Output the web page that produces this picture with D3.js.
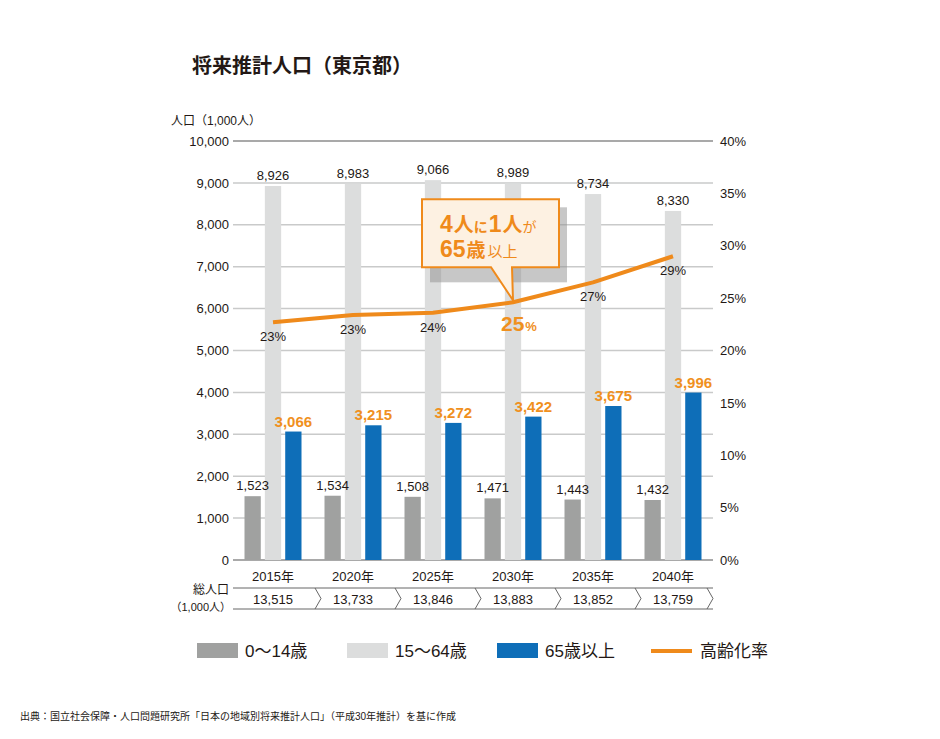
<!DOCTYPE html>
<html><head><meta charset="utf-8">
<script src="https://cdn.jsdelivr.net/npm/d3@7"></script>
<style>
html,body{margin:0;padding:0;background:#fff;}
svg{display:block;font-family:"Liberation Sans","Noto Sans CJK JP",sans-serif;}
</style></head>
<body>
<svg id="chart" width="940" height="739"></svg>
<script>
const years = ["2015年","2020年","2025年","2030年","2035年","2040年"];
const age0_14 = [1523,1534,1508,1471,1443,1432];
const age15_64 = [8926,8983,9066,8989,8734,8330];
const age65 = [3066,3215,3272,3422,3675,3996];
const agingRate = [22.7,23.4,23.6,24.6,26.5,29.0];
const totals = ["13,515","13,733","13,846","13,883","13,852","13,759"];
const leftTicks = [0,1000,2000,3000,4000,5000,6000,7000,8000,9000,10000];
const rightTicks = [0,5,10,15,20,25,30,35,40];
const seriesNames = ["0〜14歳","15〜64歳","65歳以上","高齢化率"];
const colors = {c0:"#a0a1a0", c1:"#dcdddd", c2:"#0e6eb8", line:"#ef8a1b", text:"#231815", orange:"#f0901e"};

const svg = d3.select("#chart");
const x0 = 233, x1 = 713, yTop = 141, yBot = 560;
const x = d3.scaleBand().domain(years).range([x0,x1]).padding(0);
const inner = d3.scaleBand().domain([0,1,2]).range([-28.5,28.5]).paddingInner(0.2);
const yL = d3.scaleLinear().domain([0,10000]).range([yBot,yTop]);
const yR = d3.scaleLinear().domain([0,40]).range([yBot,yTop]);
const fmt = d3.format(",");
const cx = y => x(y) + x.bandwidth()/2;

// title
svg.append("text").attr("x",192).attr("y",73).attr("font-size",20).attr("font-weight","bold")
  .attr("font-family","Noto Sans CJK JP")
  .attr("fill",colors.text).text("将来推計人口（東京都）");
svg.append("text").attr("x",171).attr("y",125).attr("font-size",12).attr("fill",colors.text).text("人口（1,000人）");

// grid
svg.append("g").selectAll("line").data(leftTicks).join("line")
  .attr("x1",x0).attr("x2",x1).attr("y1",d=>yL(d)).attr("y2",d=>yL(d))
  .attr("stroke",d=>(d===0||d===10000)?"#8c8c8c":"#c9caca").attr("stroke-width",1.5);

// left axis labels
const axL = svg.append("g").attr("transform",`translate(${x0},0)`)
  .call(d3.axisLeft(yL).tickValues(leftTicks).tickFormat(fmt).tickSize(0).tickPadding(4));
axL.select(".domain").remove();
axL.selectAll("text").attr("font-size",13).attr("fill",colors.text).attr("font-family","Liberation Sans");

const axR = svg.append("g").attr("transform",`translate(${x1},0)`)
  .call(d3.axisRight(yR).tickValues(rightTicks).tickFormat(d=>d+"%").tickSize(0).tickPadding(7));
axR.select(".domain").remove();
axR.selectAll("text").attr("font-size",13).attr("fill",colors.text).attr("font-family","Liberation Sans");

// bars
const series = [age0_14, age15_64, age65];
const fills = [colors.c0, colors.c1, colors.c2];
series.forEach((vals,si)=>{
  svg.append("g").selectAll("rect").data(vals).join("rect")
    .attr("x",(d,i)=>cx(years[i])+inner(si)).attr("width",inner.bandwidth())
    .attr("y",d=>yL(d)).attr("height",d=>yBot-yL(d)).attr("fill",fills[si]);
});

// bar labels
svg.append("g").selectAll("text").data(age0_14).join("text")
  .attr("x",(d,i)=>cx(years[i])+inner(0)+inner.bandwidth()/2).attr("y",d=>yL(d)-6)
  .attr("text-anchor","middle").attr("font-size",13).attr("fill",colors.text).text(fmt);
svg.append("g").selectAll("text").data(age15_64).join("text")
  .attr("x",(d,i)=>cx(years[i])).attr("y",d=>yL(d)-6)
  .attr("text-anchor","middle").attr("font-size",13).attr("fill",colors.text).text(fmt);
svg.append("g").selectAll("text").data(age65).join("text")
  .attr("x",(d,i)=>cx(years[i])+inner(2)+inner.bandwidth()/2).attr("y",d=>yL(d)-5)
  .attr("text-anchor","middle").attr("font-size",15).attr("font-weight","bold").attr("fill",colors.orange).text(fmt);

// line
const line = d3.line().x((d,i)=>cx(years[i])).y(d=>yR(d)).curve(d3.curveLinear);
svg.append("path").datum(agingRate).attr("d",line).attr("fill","none")
  .attr("stroke",colors.line).attr("stroke-width",4).attr("stroke-linejoin","round");

// rate labels
agingRate.forEach((r,i)=>{
  const px = cx(years[i]), py = yR(r);
  if(i===3){
    const t = svg.append("text").attr("x",px-12).attr("y",py+29).attr("fill",colors.orange).attr("font-weight","bold");
    t.append("tspan").attr("font-size",21).text(Math.round(r));
    t.append("tspan").attr("font-size",13).attr("dx",1).text("%");
  } else {
    svg.append("text").attr("x",px).attr("y",py+19).attr("text-anchor","middle")
      .attr("font-size",13).attr("fill",colors.text).text(Math.round(r)+"%");
  }
});

// callout
const tipX = cx(years[3]), tipY = yR(agingRate[3]);
const bx = tipX-91, by = tipY-103, bw = 137, bh = 68;
svg.append("rect").attr("x",bx+8).attr("y",by+8).attr("width",bw).attr("height",bh+7)
  .attr("fill","#8f9090").attr("opacity",0.5);
svg.append("path")
  .attr("d",`M${bx},${by}H${bx+bw}V${by+bh}H${tipX-1}L${tipX},${tipY-2}L${tipX-22},${by+bh}H${bx}Z`)
  .attr("fill","#fdf1e2").attr("stroke",colors.line).attr("stroke-width",2).attr("stroke-linejoin","miter");
const t1 = svg.append("text").attr("x",bx+18).attr("y",by+33).attr("fill",colors.line).attr("font-weight","bold");
t1.append("tspan").attr("font-size",23).text("4");
t1.append("tspan").attr("font-size",20).attr("dx",1).text("人");
t1.append("tspan").attr("font-size",14).text("に");
t1.append("tspan").attr("font-size",23).attr("dx",1).text("1");
t1.append("tspan").attr("font-size",20).attr("dx",1).text("人");
t1.append("tspan").attr("font-size",14).attr("font-weight","normal").text("が");
const t2 = svg.append("text").attr("x",bx+18).attr("y",by+58).attr("fill",colors.line).attr("font-weight","bold");
t2.append("tspan").attr("font-size",23).text("65");
t2.append("tspan").attr("font-size",19).attr("dx",1).text("歳");
t2.append("tspan").attr("font-size",15).attr("font-weight","normal").attr("dx",2).text("以上");

// x labels
svg.append("g").selectAll("text").data(years).join("text")
  .attr("x",d=>cx(d)).attr("y",581).attr("text-anchor","middle").attr("font-size",13)
  .attr("fill",colors.text).text(d=>d);

// total population row
const rTop = 588, rBot = 609, rMid = (rTop+rBot)/2;
svg.append("text").attr("x",229).attr("y",594).attr("text-anchor","end").attr("font-size",12)
  .attr("fill",colors.text).text("総人口");
svg.append("text").attr("x",231).attr("y",611).attr("text-anchor","end").attr("font-size",11)
  .attr("fill",colors.text).text("（1,000人）");
svg.append("line").attr("x1",x0).attr("x2",x1).attr("y1",rTop).attr("y2",rTop).attr("stroke","#666").attr("stroke-width",1);
svg.append("line").attr("x1",x0).attr("x2",x1).attr("y1",rBot).attr("y2",rBot).attr("stroke","#666").attr("stroke-width",1);
svg.append("g").selectAll("path").data(years).join("path")
  .attr("d",d=>{const b = Math.min(x(d)+x.bandwidth()+2, x1-6); return `M${b},${rTop}L${b+6},${rMid}L${b},${rBot}`;})
  .attr("fill","none").attr("stroke","#666").attr("stroke-width",1);
svg.append("g").selectAll("text").data(totals).join("text")
  .attr("x",(d,i)=>cx(years[i])).attr("y",rMid+5).attr("text-anchor","middle").attr("font-size",13)
  .attr("fill",colors.text).text(d=>d);

// legend
const leg = svg.append("g");
const legX = [197,347,497,651];
[colors.c0,colors.c1,colors.c2].forEach((c,i)=>{
  leg.append("rect").attr("x",legX[i]).attr("y",643).attr("width",41).attr("height",15).attr("fill",c);
});
leg.append("line").attr("x1",legX[3]).attr("x2",legX[3]+41).attr("y1",651).attr("y2",651)
  .attr("stroke",colors.line).attr("stroke-width",4);
seriesNames.forEach((n,i)=>{
  leg.append("text").attr("x",legX[i]+(i===3?49:48)).attr("y",657).attr("font-size",17)
    .attr("fill",colors.text).text(n);
});

// source
svg.append("text").attr("x",20).attr("y",720).attr("font-size",10).attr("fill",colors.text)
  .text("出典：国立社会保障・人口問題研究所「日本の地域別将来推計人口」（平成30年推計）を基に作成");
</script>
</body></html>
